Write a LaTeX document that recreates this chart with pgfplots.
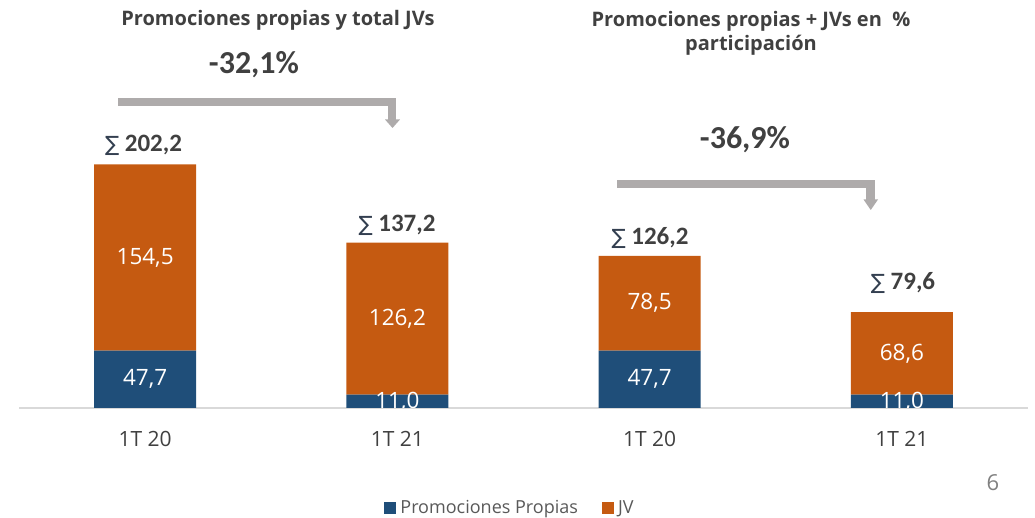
\documentclass[border=0pt]{standalone}
\usepackage{fontspec}
\setmainfont{Open Sans}
\newfontfamily\calfont{Carlito}
\newfontfamily\dvfont{DejaVu Sans}
\usepackage{pgfplots}
\pgfplotsset{compat=1.18}
\definecolor{cblue}{HTML}{1F4E79}
\definecolor{corange}{HTML}{C55A11}
\definecolor{agray}{HTML}{AEABAB}
\definecolor{tgray}{HTML}{404040}
\definecolor{sgray}{HTML}{333F50}
\definecolor{lgray}{HTML}{595959}
\definecolor{axgray}{HTML}{D9D9D9}
\tikzset{vlab/.style={font=\fontsize{22.5}{26}\selectfont, text=white}}
\begin{document}
\begin{tikzpicture}[x=1pt,y=1pt]
\useasboundingbox (0,0) rectangle (1035,518);
\begin{axis}[
  at={(19pt,110pt)}, anchor=south west,
  scale only axis, width=1009pt, height=408pt,
  xmin=-0.5, xmax=3.5, ymin=0, ymax=338.6,
  ybar stacked, bar width=102pt,
  axis x line*=bottom, axis y line=none,
  x axis line style={draw=axgray, line width=1.2pt},
  xtick={0,1,2,3}, xticklabels={1T 20,1T 21,1T 20,1T 21},
  major tick length=0pt,
  xticklabel style={font=\fontsize{21}{25}\selectfont, text=tgray, anchor=center, yshift=-31pt},
  clip=false,
  legend style={at={(0.4866,-0.245)}, anchor=center, draw=none, fill=none,
    font=\fontsize{18}{21}\selectfont, text=lgray, legend columns=2,
    /tikz/every even column/.style={column sep=22pt},
    /tikz/every odd column/.style={column sep=2pt}},
  legend image code/.code={\fill[#1] (0pt,-6pt) rectangle (12pt,6pt);},
]
\addplot[fill=cblue, draw=none] coordinates {(0,47.7) (1,11.0) (2,47.7) (3,11.0)};
\addplot[fill=corange, draw=none] coordinates {(0,154.5) (1,126.2) (2,78.5) (3,68.6)};
\legend{Promociones Propias, JV}
\coordinate (b0) at (axis cs:0,23.85);
\coordinate (b1) at (axis cs:1,5.5);
\coordinate (b2) at (axis cs:2,23.85);
\coordinate (b3) at (axis cs:3,5.5);
\coordinate (o0) at (axis cs:0,124.95);
\coordinate (o1) at (axis cs:1,74.1);
\coordinate (o2) at (axis cs:2,86.95);
\coordinate (o3) at (axis cs:3,45.3);
\end{axis}
\node[vlab] at (b0) {47,7};
\node[vlab] at (b2) {47,7};
\begin{scope}
\clip (0,110.6) rectangle (1035,518);
\node[vlab] at (b1) {11,0};
\node[vlab] at (b3) {11,0};
\end{scope}
\node[vlab] at (o0) {154,5};
\node[vlab] at (o1) {126,2};
\node[vlab] at (o2) {78,5};
\node[vlab] at (o3) {68,6};
% sums
\tikzset{slab/.style={font=\calfont\bfseries\fontsize{25}{30}\selectfont, text=tgray}}
\node[slab] at (143.5,373) {{\dvfont\mdseries\fontsize{21}{25}\selectfont\color{sgray}∑} 202,2};
\node[slab] at (397,293) {{\dvfont\mdseries\fontsize{21}{25}\selectfont\color{sgray}∑} 137,2};
\node[slab] at (650,280) {{\dvfont\mdseries\fontsize{21}{25}\selectfont\color{sgray}∑} 126,2};
\node[slab] at (903,235) {{\dvfont\mdseries\fontsize{21}{25}\selectfont\color{sgray}∑} 79,6};
% titles
\node[font=\bfseries\fontsize{20}{24}\selectfont, text=tgray] at (278,498) {Promociones propias y total JVs};
\node[font=\bfseries\fontsize{20}{24}\selectfont, text=tgray, align=center] at (751,484.5) {Promociones propias + JVs en~~\%\\[0pt]participación};
\node[font=\calfont\bfseries\fontsize{32}{38}\selectfont, text=tgray] at (254,453) {-32,1\%};
\node[font=\calfont\bfseries\fontsize{32}{38}\selectfont, text=tgray] at (745,378) {-36,9\%};
% arrows
\draw[agray, line width=8.5pt, line cap=butt, line join=miter] (118,416) -- (392,416) -- (392,398);
\fill[agray] (385,398.5) -- (400,398.5) -- (392.5,390) -- cycle;
\draw[agray, line width=8.5pt, line cap=butt, line join=miter] (617,334) -- (870.5,334) -- (870.5,318);
\fill[agray] (863.5,318.5) -- (878,318.5) -- (870.75,308) -- cycle;
% page number
\node[font=\fontsize{22}{26}\selectfont, text=gray] at (993,35) {6};
\end{tikzpicture}
\end{document}
